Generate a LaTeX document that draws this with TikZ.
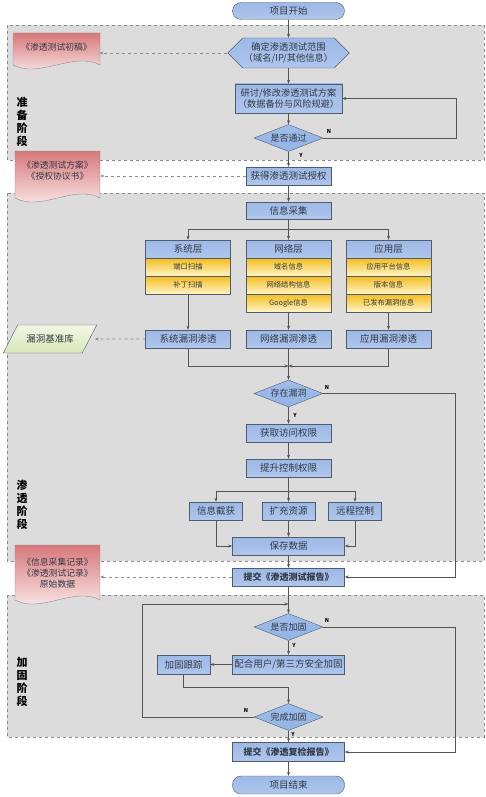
\documentclass[tikz,border=0pt]{standalone}
\usepackage{fontspec}
\newfontfamily\cjk{Noto Sans CJK SC}
\usepackage{tikz}
\usetikzlibrary{positioning,shapes.geometric,shapes.symbols,arrows.meta}

\definecolor{boxtop}{HTML}{9DB9E6}
\definecolor{boxmid}{HTML}{EDF2FB}
\definecolor{boxbot}{HTML}{AFC6EC}
\definecolor{boxline}{HTML}{4E5C70}
\definecolor{itemtop}{HTML}{F5BE1E}
\definecolor{itembot}{HTML}{FFF4C6}
\definecolor{diatop}{HTML}{9FBDE9}
\definecolor{diamid}{HTML}{CFDEF5}
\definecolor{diabot}{HTML}{93B3E5}
\definecolor{doctop}{HTML}{D7787A}
\definecolor{docbot}{HTML}{FDF3F3}
\definecolor{dbtop}{HTML}{F2F7E4}
\definecolor{dbbot}{HTML}{D8E6B8}
\definecolor{stagefill}{HTML}{DCDCDC}
\definecolor{stageline}{HTML}{8A8A8A}
\definecolor{arrowc}{HTML}{555555}
\definecolor{notec}{HTML}{8C8C8C}
\definecolor{txt}{HTML}{333A45}

\begin{document}
\begin{tikzpicture}[x=1pt,y=-1pt,>={Stealth[length=4pt,width=3pt]},
  every node/.style={font=\cjk\fontsize{9.5}{11}\selectfont,text=txt},
  box/.style={rectangle,draw=boxline,top color=boxtop,middle color=boxmid,bottom color=boxbot,minimum width=85,minimum height=18,inner sep=1pt},
  widebox/.style={box,minimum width=112},
  smallbox/.style={box,minimum width=53},
  item/.style={rectangle,draw=boxline,top color=itemtop,bottom color=itembot,minimum width=85,minimum height=17.5,inner sep=1pt,font=\cjk\fontsize{7.3}{8}\selectfont},
  decision/.style={diamond,draw=boxline,top color=diatop,middle color=diamid,bottom color=diabot,minimum width=69,minimum height=27,inner sep=0pt,aspect=2.5,font=\cjk\fontsize{9}{10}\selectfont},
  terminal/.style={rectangle,rounded corners=8.5,draw=boxline,top color=boxtop,middle color=boxmid,bottom color=boxbot,minimum width=112,minimum height=17},
  scopebox/.style={signal,signal to=east and west,signal pointer angle=90,draw=boxline,top color=boxtop,middle color=boxmid,bottom color=boxbot,minimum width=120,minimum height=30,inner sep=1pt,align=center,font=\cjk\fontsize{9.3}{11.5}\selectfont},
  dbbox/.style={trapezium,trapezium left angle=52,trapezium right angle=128,trapezium stretches=true,draw=boxline,top color=dbtop,bottom color=dbbot,minimum width=94,minimum height=28},
  docshape/.style={draw=notec,top color=doctop,bottom color=docbot},
  doctext/.style={align=center,minimum width=85,minimum height=30,font=\cjk\fontsize{8.8}{11}\selectfont},
  stage/.style={draw=stageline,dashed,fill=stagefill},
  phase/.style={align=center,text=black,font=\cjk\bfseries\fontsize{11}{13}\selectfont},
  flow/.style={->,draw=arrowc,line width=0.6pt},
  note/.style={->,draw=notec,dashed,line width=0.6pt},
  yn/.style={text=black,font=\cjk\bfseries\fontsize{5.5}{6}\selectfont}]

\useasboundingbox (0,0) rectangle (485,797);

% stages
\path[stage] (7,25) rectangle (484,160);
\path[stage] (7,193) rectangle (484,561);
\path[stage] (7,595) rectangle (484,737);
\node[phase] (prep) at (22,122) {准\\备\\阶\\段};
\node[phase] (pent) at (22,505) {渗\\透\\阶\\段};
\node[phase] (hard) at (22,682) {加\\固\\阶\\段};

% documents
\shade[docshape] (13,33) -- (100,33) -- (100,65) .. controls (74,51) and (39,79) .. (13,65) -- cycle;
\node[doctext] (draft) at (56.5,47) {《渗透测试初稿》};
\shade[docshape] (15,151) -- (100,151) -- (100,198) .. controls (74,184) and (41,212) .. (15,198) -- cycle;
\node[doctext] (plandoc) at (57.5,171) {《渗透测试方案》\\《授权协议书》};
\shade[docshape] (15,545) -- (100,545) -- (100,600) .. controls (74,586) and (41,614) .. (15,600) -- cycle;
\node[doctext] (records) at (57.5,573) {《信息采集记录》\\《渗透测试记录》\\原始数据};

% preparation
\node[terminal] (start) at (288.5,11) {项目开始};
\node[scopebox] (scope) at (288.5,53) {确定渗透测试范围\\（域名/IP/其他信息）};
\node[box,minimum width=107,minimum height=29,align=center,font=\cjk\fontsize{9.2}{11.5}\selectfont] (plan) at (288.5,98.5) {研讨/修改渗透测试方案\\（数据备份与风险规避）};
\node[decision] (pass) at (288.5,138) {是否通过};
\node[box] (auth) at (288.5,176) {获得渗透测试授权};

% penetration
\node[box,minimum height=17] (collect) at (288.5,210.5) {信息采集};
\node[box] (syshead) at (188,249) {系统层};
\node[item,below=0pt of syshead] (port) {端口扫描};
\node[item,below=0pt of port] (patch) {补丁扫描};
\node[box] (nethead) at (288.5,249) {网络层};
\node[item,below=0pt of nethead] (domain) {域名信息};
\node[item,below=0pt of domain] (topo) {网络结构信息};
\node[item,below=0pt of topo] (google) {Google信息};
\node[box] (apphead) at (388.5,249) {应用层};
\node[item,below=0pt of apphead] (platform) {应用平台信息};
\node[item,below=0pt of platform] (version) {版本信息};
\node[item,below=0pt of version] (published) {已发布漏洞信息};
\node[box] (sysvuln) at (188,339) {系统漏洞渗透};
\node[box] (netvuln) at (288.5,339) {网络漏洞渗透};
\node[box] (appvuln) at (388.5,339) {应用漏洞渗透};
\node[dbbox] (vulndb) at (50,339) {漏洞基准库};
\node[decision] (exist) at (288.5,393.5) {存在漏洞};
\node[box] (access) at (288.5,433) {获取访问权限};
\node[box] (escalate) at (288.5,468) {提升控制权限};
\node[smallbox] (grab) at (216,511) {信息截获};
\node[smallbox] (expand) at (288.5,511) {扩充资源};
\node[smallbox] (remote) at (355,511) {远程控制};
\node[widebox] (save) at (288.5,546) {保存数据};
\node[widebox,font=\cjk\bfseries\fontsize{9}{10}\selectfont] (report) at (288.5,577) {提交《渗透测试报告》};

% hardening
\node[decision] (harden) at (288.5,627) {是否加固};
\node[widebox,minimum height=19] (coop) at (288.5,664.5) {配合用户/第三方安全加固};
\node[smallbox,minimum height=19] (track) at (183.5,664.5) {加固跟踪};
\node[decision] (done) at (288.5,717) {完成加固};
\node[widebox,minimum height=19,font=\cjk\bfseries\fontsize{9}{10}\selectfont] (recheck) at (288.5,752) {提交《渗透复检报告》};
\node[terminal,minimum height=18] (end) at (288.5,785) {项目结束};

\coordinate (split) at (288.5,229);
\coordinate (merge) at (288.5,366);
\coordinate (split2) at (288.5,491);
\coordinate (reloop) at (288.5,604);
\coordinate (rejoin) at (288.5,687);

% connectors
\draw[flow] (start) -- (scope);
\draw[flow] (scope) -- (plan);
\draw[flow] (plan) -- (pass);
\draw[flow] (pass) -- (auth);
\draw[flow] (pass.east) -- ++(133.5,0) |- (plan.east);
\draw[flow] (auth) -- (collect);
\draw[arrowc,line width=0.6pt] (collect.south) -- (split);
\draw[flow] (split) -| (syshead.north);
\draw[flow] (split) -- (nethead.north);
\draw[flow] (split) -| (apphead.north);
\draw[flow] (patch) -- (sysvuln);
\draw[flow] (google) -- (netvuln);
\draw[flow] (published) -- (appvuln);
\draw[flow] (sysvuln.south) |- (merge);
\draw[flow] (appvuln.south) |- (merge);
\draw[arrowc,line width=0.6pt] (netvuln.south) -- (merge);
\draw[flow] (merge) -- (exist.north);
\draw[flow] (exist) -- (access);
\draw[flow] (exist.east) -- ++(132.5,0) |- (report.east);
\draw[flow] (access) -- (escalate);
\draw[arrowc,line width=0.6pt] (escalate.south) -- (split2);
\draw[flow] (split2) -| (grab.north);
\draw[flow] (split2) -- (expand.north);
\draw[flow] (split2) -| (remote.north);
\draw[flow] (grab.south) |- (save.west);
\draw[flow] (expand) -- (save);
\draw[flow] (remote.south) |- (save.east);
\draw[flow] (save) -- (report);
\draw[flow] (report) -- (harden);
\draw[flow] (harden) -- (coop);
\draw[flow] (harden.east) -- ++(132.5,0) |- (recheck.east);
\draw[flow] (coop) -- (track);
\draw[flow] (track.south) |- (rejoin) -- (done.north);
\draw[flow] (done.west) -- ++(-112,0) |- (reloop);
\draw[flow] (done) -- (recheck);
\draw[flow] (recheck) -- (end);

% dashed notes
\draw[note] (scope.west) -- (scope.west -| draft.east);
\draw[note] (auth.west) -- (auth.west -| plandoc.east);
\draw[note] (sysvuln.west) -- ([xshift=5pt]vulndb.east);
\draw[note] (report.west) -- (report.west -| records.east);

% yes / no
\node[yn] (n1) at (329,131) {N};
\node[yn] (y1) at (301,155) {Y};
\node[yn] (n2) at (327,387) {N};
\node[yn] (y2) at (295,415) {Y};
\node[yn] (n3) at (327,620) {N};
\node[yn] (y3) at (294,645) {Y};
\node[yn] (n4) at (246,710) {N};
\node[yn] (y4) at (293,734) {Y};
\end{tikzpicture}
\end{document}
